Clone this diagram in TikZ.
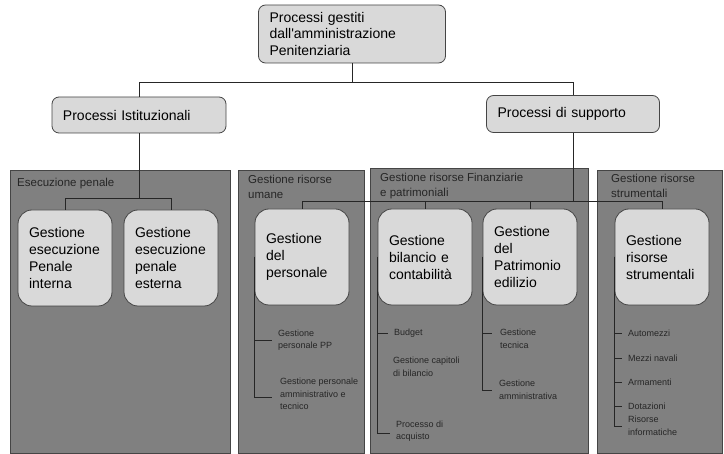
\documentclass[tikz,border=0pt]{standalone}
\usepackage{fontspec}
\setmainfont{Liberation Sans}
\usetikzlibrary{positioning}
\definecolor{deptGray}{HTML}{808080}
\definecolor{boxGray}{HTML}{D9D9D9}
\definecolor{edgeGray}{HTML}{454545}

\begin{document}
\begin{tikzpicture}[
        x=1pt, y=-1pt,
        process/.style={
            rectangle, rounded corners=7pt, draw = edgeGray, line width=0.8pt, fill = boxGray, text = black,
            align = left, inner xsep = 11pt, font = \fontsize{14}{17}\selectfont
        },
        activity/.style={
            process, rounded corners=14pt, minimum width=94pt, minimum height=96pt, text width=72pt
        },
        department/.style={
            rectangle, draw = edgeGray, line width=0.8pt, fill = deptGray, anchor = north west, inner sep=0pt
        },
        deptTitle/.style={
            align = left, inner sep=0pt, text = black!85, font = \fontsize{11.5}{15}\selectfont
        },
        task/.style={
            anchor = west, align = left, inner sep=0pt, text = black!85, font = \fontsize{9}{12.5}\selectfont
        },
        connector/.style={
            draw = black!85, line width=0.8pt
        },
    ]
    \useasboundingbox (0,0) rectangle (724,454);

    \node (topProc) [process, text width=165pt, minimum height=58pt] at (352,34) {
        Processi gestiti \\ dall\textquotesingle amministrazione \\ Penitenziaria
    };
    \node (istituz) [process, text width=152pt, minimum height=36pt] at (139,115) {Processi Istituzionali};
    \node (supporto) [process, text width=151pt, minimum height=37pt] at (573,114) {Processi di supporto};

    \node (deptEsecuzione) [department, minimum width=220pt, minimum height=283pt] at (10,170) {};
    \node (titleEsecuzione) [deptTitle, below right=8pt and 7pt of deptEsecuzione.north west] {Esecuzione penale};
    \node (deptUmane) [department, minimum width=126pt, minimum height=283pt] at (238,170) {};
    \node (titleUmane) [deptTitle, below right=5pt and 10pt of deptUmane.north west] {Gestione risorse \\ umane};
    \node (deptFinanz) [department, minimum width=218pt, minimum height=285pt] at (370,168) {};
    \node (titleFinanz) [deptTitle, below right=5pt and 10pt of deptFinanz.north west] {Gestione risorse Finanziarie \\ e patrimoniali};
    \node (deptStrum) [department, minimum width=125pt, minimum height=283pt] at (597,170) {};
    \node (titleStrum) [deptTitle, below right=4pt and 14pt of deptStrum.north west] {Gestione risorse \\ strumentali};

    \coordinate (topFork) at (352,82);
    \path (topProc.south) edge[connector] (topFork);
    \draw[connector] (topFork) -| (istituz.north);
    \draw[connector] (topFork) -| (supporto.north);

    \node (penInterna) [activity] at (65,258) {Gestione \\ esecuzione \\ Penale \\ interna};
    \node (penEsterna) [activity] at (171,258) {Gestione \\ esecuzione \\ penale \\ esterna};
    \coordinate (istFork) at (139,198);
    \path (istituz.south) edge[connector] (istFork);
    \draw[connector] (istFork) -| (penInterna.north);
    \draw[connector] (istFork) -| (penEsterna.north);

    \node (personale) [activity] at (302,257) {Gestione \\ del \\ personale};
    \node (bilancio) [activity] at (425,257) {Gestione \\ bilancio e \\ contabilità};
    \node (patrimonio) [activity] at (530,257) {Gestione \\ del \\ Patrimonio \\ edilizio};
    \node (strumentali) [activity] at (662,257) {Gestione \\ risorse \\ strumentali};
    \coordinate (supFork) at (573,201);
    \path (supporto.south) edge[connector] (supFork);
    \draw[connector] (supFork) -| (personale.north);
    \draw[connector] (supFork) -| (bilancio.north);
    \draw[connector] (supFork) -| (patrimonio.north);
    \draw[connector] (supFork) -| (strumentali.north);

    \node (persPP) [task] at (278,340) {Gestione \\ personale PP};
    \node (persAmm) [task] at (280,394) {Gestione personale \\ amministrativo e \\ tecnico};
    \draw[connector] (personale.west) |- ([xshift=-6pt]persPP.west);
    \draw[connector] (personale.west) |- ([xshift=-8pt,yshift=-3pt]persAmm.west);

    \node (budget) [task] at (394,333) {Budget};
    \node (capitoli) [task] at (393,367) {Gestione capitoli \\ di bilancio};
    \node (acquisto) [task] at (396,431) {Processo di \\ acquisto};
    \draw[connector] (bilancio.west) |- ([xshift=-6pt]budget.west);
    \draw[connector] (bilancio.west) |- ([xshift=-6pt,yshift=-2pt]acquisto.west);

    \node (tecnica) [task] at (500,339) {Gestione \\ tecnica};
    \node (amministr) [task] at (499,390) {Gestione \\ amministrativa};
    \draw[connector] (patrimonio.west) |- ([xshift=-8pt,yshift=6pt]tecnica.west);
    \draw[connector] (patrimonio.west) |- ([xshift=-7pt]amministr.west);

    \node (automezzi) [task] at (628,333) {Automezzi};
    \node (navali) [task] at (628,358) {Mezzi navali};
    \node (armamenti) [task] at (628,382) {Armamenti};
    \node (dotazioni) [task] at (628,406) {Dotazioni};
    \node (informatiche) [task] at (628,426) {Risorse \\ informatiche};
    \draw[connector] (strumentali.west) |- ([xshift=-6pt]automezzi.west);
    \draw[connector] (strumentali.west) |- ([xshift=-6pt]navali.west);
    \draw[connector] (strumentali.west) |- ([xshift=-6pt]armamenti.west);
    \draw[connector] (strumentali.west) |- ([xshift=-6pt]dotazioni.west);
    \draw[connector] (strumentali.west) |- ([xshift=-6pt]informatiche.west);

    \end{tikzpicture}
\end{document}
